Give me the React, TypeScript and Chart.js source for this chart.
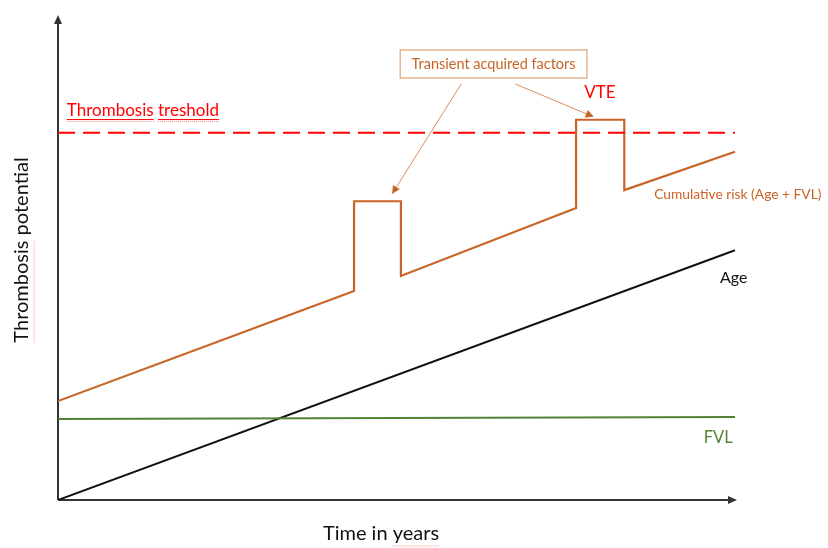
import React, { useEffect, useRef } from "react";
import { Chart, registerables } from "chart.js";

Chart.register(...registerables);

// ---- data (time in years vs thrombosis potential, arbitrary units) ----
const riskX = [0, 43.6, 43.6, 50.5, 50.5, 76.3, 76.3, 83.4, 83.4, 99.7];
const riskY = [20.4, 43.1, 61.6, 61.6, 46.2, 60.2, 78.4, 78.4, 63.9, 71.8];
const ageX = [0, 99.7];
const ageY = [0, 51.5];
const fvlX = [0, 99.7];
const fvlY = [16.7, 17.1];
const thresholdX = [0, 99.7];
const thresholdY = [75.7, 75.7];

const labels = {
  threshold: "Thrombosis treshold",
  vte: "VTE",
  transient: "Transient acquired factors",
  cumulative: "Cumulative risk (Age + FVL)",
  age: "Age",
  fvl: "FVL",
  yTitle: "Thrombosis potential",
  xTitle: "Time in years",
};

const ORANGE = "rgb(200,100,38)";
const GREEN = "rgb(84,130,53)";
const RED = "rgb(255,0,0)";
const FONT = "Lato, 'Open Sans', sans-serif";
const SQUIG = "rgba(240,110,110,0.75)";

const zip = (xs: number[], ys: number[]) => xs.map((x, i) => ({ x, y: ys[i] }));

const decorPlugin = {
  id: "decor",
  beforeDatasetsDraw(chart: any) {
    const { ctx, chartArea } = chart;
    const { left, right, top, bottom } = chartArea;
    ctx.save();
    ctx.strokeStyle = "#333";
    ctx.fillStyle = "#333";
    ctx.lineWidth = 2;
    ctx.beginPath();
    ctx.moveTo(left, bottom);
    ctx.lineTo(left, top + 6);
    ctx.moveTo(left, bottom);
    ctx.lineTo(right - 6, bottom);
    ctx.stroke();
    ctx.beginPath();
    ctx.moveTo(left, top);
    ctx.lineTo(left - 4, top + 9);
    ctx.lineTo(left + 4, top + 9);
    ctx.closePath();
    ctx.fill();
    ctx.beginPath();
    ctx.moveTo(right, bottom);
    ctx.lineTo(right - 9, bottom - 4);
    ctx.lineTo(right - 9, bottom + 4);
    ctx.closePath();
    ctx.fill();
    ctx.restore();
  },
  afterDatasetsDraw(chart: any) {
    const { ctx } = chart;
    const xs = chart.scales.x;
    const ys = chart.scales.y;
    const px = (v: number) => xs.getPixelForValue(v);
    const py = (v: number) => ys.getPixelForValue(v);

    const line = (x0: number, x1: number, y: number, color: string, dash: number[]) => {
      ctx.save();
      ctx.strokeStyle = color;
      ctx.lineWidth = 1;
      ctx.setLineDash(dash);
      ctx.beginPath();
      ctx.moveTo(x0, y);
      ctx.lineTo(x1, y);
      ctx.stroke();
      ctx.restore();
    };

    const text = (
      s: string,
      x: number,
      y: number,
      color: string,
      size: number,
      align: CanvasTextAlign = "left"
    ) => {
      ctx.save();
      ctx.fillStyle = color;
      ctx.font = `${size}px ${FONT}`;
      ctx.textAlign = align;
      ctx.textBaseline = "middle";
      ctx.fillText(s, x, y);
      ctx.restore();
    };

    // threshold label with spell-check underline on both words
    const tx = px(1.3);
    const ty = py(80.4);
    ctx.save();
    ctx.font = `17px ${FONT}`;
    const w1 = ctx.measureText("Thrombosis").width;
    const wAll = ctx.measureText(labels.threshold).width;
    const w2 = ctx.measureText("treshold").width;
    ctx.restore();
    text(labels.threshold, tx, ty, RED, 17);
    line(tx, tx + w1, ty + 9.5, RED, []);
    line(tx + wAll - w2, tx + wAll, ty + 9.5, RED, []);
    line(tx, tx + w1, ty + 11.5, SQUIG, [1, 1]);
    line(tx + wAll - w2, tx + wAll, ty + 11.5, SQUIG, [1, 1]);

    text(labels.vte, px(79.8), py(84.1), RED, 17, "center");

    // transient box
    const bx0 = px(50.4), bx1 = px(77.9), by0 = py(92.8), by1 = py(87.0);
    ctx.save();
    ctx.strokeStyle = "rgb(232,180,140)";
    ctx.lineWidth = 1.5;
    ctx.strokeRect(bx0, by0, bx1 - bx0, by1 - by0);
    ctx.restore();
    text(labels.transient, (bx0 + bx1) / 2, (by0 + by1) / 2, ORANGE, 14.5, "center");

    const arrow = (x0: number, y0: number, x1: number, y1: number) => {
      const a0 = px(x0), b0 = py(y0), a1 = px(x1), b1 = py(y1);
      const ang = Math.atan2(b1 - b0, a1 - a0);
      const c = Math.cos(ang), s = Math.sin(ang);
      ctx.save();
      ctx.strokeStyle = "rgb(220,140,90)";
      ctx.fillStyle = ORANGE;
      ctx.lineWidth = 1;
      ctx.beginPath();
      ctx.moveTo(a0, b0);
      ctx.lineTo(a1 - 6 * c, b1 - 6 * s);
      ctx.stroke();
      ctx.beginPath();
      ctx.moveTo(a1, b1);
      ctx.lineTo(a1 - 8 * c + 4 * s, b1 - 8 * s - 4 * c);
      ctx.lineTo(a1 - 8 * c - 4 * s, b1 - 8 * s + 4 * c);
      ctx.closePath();
      ctx.fill();
      ctx.restore();
    };
    arrow(59.4, 85.8, 49.2, 63.1);
    arrow(67.3, 85.8, 78.9, 79.0);

    text(labels.cumulative, px(87.8), py(62.9), ORANGE, 13.8);
    text(labels.age, px(97.5), py(45.8), "#111", 16);
    text(labels.fvl, px(95.1), py(12.8), GREEN, 16.5);

    // axis titles
    ctx.save();
    ctx.translate(22, 250);
    ctx.rotate(-Math.PI / 2);
    ctx.fillStyle = "#111";
    ctx.font = `20px ${FONT}`;
    ctx.textAlign = "center";
    ctx.textBaseline = "middle";
    ctx.fillText(labels.yTitle, 0, 0);
    const wy = ctx.measureText(labels.yTitle).width;
    const wt = ctx.measureText("Thrombosis").width;
    const wp = ctx.measureText("potential").width;
    ctx.strokeStyle = SQUIG;
    ctx.lineWidth = 1;
    ctx.setLineDash([1, 1]);
    ctx.beginPath();
    ctx.moveTo(-wy / 2, 12);
    ctx.lineTo(-wy / 2 + wt, 12);
    ctx.stroke();
    ctx.restore();
    void wp;

    ctx.save();
    ctx.fillStyle = "#111";
    ctx.font = `20px ${FONT}`;
    ctx.textAlign = "center";
    ctx.textBaseline = "middle";
    ctx.fillText(labels.xTitle, 381, 534);
    const wx = ctx.measureText(labels.xTitle).width;
    const wyrs = ctx.measureText("years").width;
    ctx.strokeStyle = SQUIG;
    ctx.lineWidth = 1;
    ctx.setLineDash([1, 1]);
    ctx.beginPath();
    ctx.moveTo(381 + wx / 2 - wyrs, 546);
    ctx.lineTo(381 + wx / 2, 546);
    ctx.stroke();
    ctx.restore();
  },
};

export default function App() {
  const ref = useRef<HTMLCanvasElement | null>(null);
  useEffect(() => {
    if (!ref.current) return;
    const chart = new Chart(ref.current, {
      type: "line",
      data: {
        datasets: [
          {
            label: "Thrombosis treshold",
            data: zip(thresholdX, thresholdY),
            borderColor: RED,
            borderWidth: 2,
            borderDash: [17, 8],
            pointRadius: 0,
          },
          {
            label: "FVL",
            data: zip(fvlX, fvlY),
            borderColor: GREEN,
            borderWidth: 2,
            pointRadius: 0,
          },
          {
            label: "Age",
            data: zip(ageX, ageY),
            borderColor: "#111",
            borderWidth: 2,
            pointRadius: 0,
          },
          {
            label: "Cumulative risk (Age + FVL)",
            data: zip(riskX, riskY),
            borderColor: ORANGE,
            borderWidth: 2.2,
            pointRadius: 0,
            borderJoinStyle: "miter",
          },
        ],
      },
      options: {
        animation: false,
        responsive: false,
        devicePixelRatio: 1,
        layout: { padding: { left: 58, top: 15, right: 91, bottom: 48 } },
        plugins: { legend: { display: false }, tooltip: { enabled: false } },
        elements: { line: { tension: 0 } },
        scales: {
          x: { type: "linear", min: 0, max: 100, display: false },
          y: { type: "linear", min: 0, max: 100, display: false },
        },
      },
      plugins: [decorPlugin],
    });
    return () => chart.destroy();
  }, []);
  return (
    <div style={{ position: "absolute", left: 0, top: 0, width: 828, height: 548, background: "#fff" }}>
      <canvas ref={ref} width={828} height={548} />
    </div>
  );
}
